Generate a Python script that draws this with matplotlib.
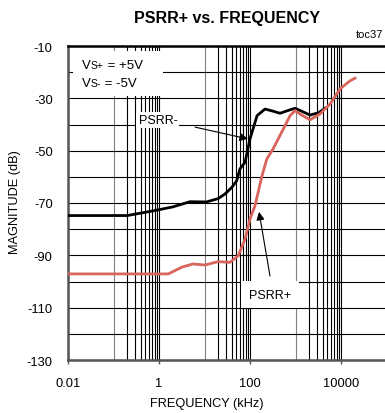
import matplotlib
matplotlib.use("Agg")
import matplotlib.pyplot as plt
from matplotlib.patches import Rectangle
from matplotlib.offsetbox import TextArea, HPacker, VPacker, AnchoredOffsetbox

plt.rcParams['font.family'] = ['Liberation Sans', 'DejaVu Sans']

# ---- data (frequency in kHz, magnitude in dB) ----
psrr_minus_f = [0.01, 0.2, 0.8, 2, 4.8, 11, 20, 28, 40, 51, 60, 78, 100, 143, 214,
                320, 457, 700, 977, 1400, 2090, 3200, 4500]
psrr_minus_db = [-74.8, -74.8, -72.9, -71.5, -69.5, -69.6, -68.3, -66.6, -64.0, -61.5,
                 -57.0, -54.4, -45.5, -36.6, -34.1, -34.9, -35.7, -34.6, -33.8, -35.0,
                 -36.4, -35.5, -33.8]

psrr_plus_f = [0.01, 1.6, 3.2, 5.6, 10.2, 20, 36, 55, 78, 100, 129, 181, 234, 320, 417,
               587, 759, 975, 1368, 2085, 3450, 5730, 9500, 15800, 20300]
psrr_plus_db = [-97.1, -97.1, -94.5, -93.3, -93.7, -92.4, -92.7, -90.2, -83.7, -76.1,
                -71.0, -60.0, -53.2, -49.4, -45.5, -40.5, -36.6, -34.7, -36.4, -38.2,
                -36.0, -32.2, -26.4, -23.3, -22.3]

x_major = [0.01, 1, 100, 10000]
x_major_labels = ["0.01", "1", "100", "10000"]
x_decades_minor = [0.1, 10, 1000]
x_minor_ext = [m * d for d in [0.1, 10, 1000] for m in range(2, 10)]
y_major = [-130, -110, -90, -70, -50, -30, -10]
y_minor = [-120, -100, -80, -60, -40, -20]

W, H = 385, 414
fig = plt.figure(figsize=(W / 100, H / 100), dpi=100)
ax = fig.add_axes([68 / W, 1 - 361 / H, 318.5 / W, 314 / H])
ax.set_xscale('log')
ax.set_xlim(0.01, 100000)
ax.set_ylim(-130, -10)

ax.set_xticks(x_major)
ax.set_xticklabels(x_major_labels)
ax.set_xticks(x_decades_minor + x_minor_ext, minor=True)
ax.set_xticklabels([], minor=True)
ax.set_yticks(y_major)
ax.set_yticklabels([str(v) for v in y_major])
ax.set_yticks(y_minor, minor=True)

ax.tick_params(axis='x', which='major', length=3, width=1, color='#555', pad=9, labelsize=9.3)
ax.tick_params(axis='x', which='minor', length=0)
ax.tick_params(axis='y', which='both', length=0, pad=11, labelsize=9.3)

ax.grid(True, which='both', color='black', lw=0.8)
for t in ax.xaxis.get_minor_ticks():
    if t.get_loc() in x_decades_minor:
        t.gridline.set_color('#808080')
ax.set_axisbelow(True)

ax.spines['top'].set_linewidth(1.8)
ax.spines['top'].set_color('black')
for s in ['left', 'bottom']:
    ax.spines[s].set_linewidth(1.8)
    ax.spines[s].set_color('#555555')
ax.spines['right'].set_visible(False)

ax.plot(psrr_minus_f, psrr_minus_db, color='black', lw=2.0, solid_joinstyle='round', zorder=3)
ax.plot(psrr_plus_f, psrr_plus_db, color='#d8645c', lw=2.0, solid_joinstyle='round', zorder=3)

# annotations
ax.text(0.95, -38.3, "PSRR-", ha='center', va='center', fontsize=9,
        bbox=dict(facecolor='white', edgecolor='none', pad=1.5), zorder=4)
ax.annotate("", xy=(90, -45.5), xytext=(6.2, -41.0),
            arrowprops=dict(arrowstyle='-|>', lw=0.8, color='black', mutation_scale=12,
                            shrinkA=0, shrinkB=0), zorder=4)
ax.text(275, -105.1, "PSRR+", ha='center', va='center', fontsize=9,
        bbox=dict(facecolor='white', edgecolor='none', pad=5.5), zorder=4)
ax.annotate("", xy=(158, -73.4), xytext=(275, -97.9),
            arrowprops=dict(arrowstyle='-|>', lw=0.8, color='black', mutation_scale=12,
                            shrinkA=0, shrinkB=0), zorder=4)

# white box behind supply-voltage note
ax.add_patch(Rectangle((73 / W, 1 - 97 / H), 90 / W, 45 / H, transform=fig.transFigure,
                       facecolor='white', edgecolor='none', zorder=4.5))

def row(sub, val):
    return HPacker(children=[TextArea("V", textprops=dict(fontsize=9.5)),
                             TextArea(sub, textprops=dict(fontsize=7.5)),
                             TextArea(val, textprops=dict(fontsize=9.5))],
                   align='baseline', pad=0, sep=0)

box = VPacker(children=[row("S+", " = +5V"), row("S-", " = -5V")], align='left', pad=0, sep=4)
anch = AnchoredOffsetbox(loc='upper left', child=box, pad=0, borderpad=0,
                         bbox_to_anchor=(82 / W, 1 - 60 / H), bbox_transform=fig.transFigure,
                         frameon=False)
anch.zorder = 5
ax.add_artist(anch)

fig.text(227 / W, 1 - 18 / H, "PSRR+ vs. FREQUENCY", ha='center', va='center',
         fontsize=11.5, fontweight='bold')
fig.text(369 / W, 1 - 35 / H, "toc37", ha='center', va='center', fontsize=8)
fig.text(207 / W, 1 - 404 / H, "FREQUENCY (kHz)", ha='center', va='center', fontsize=9.2)
fig.text(15 / W, 1 - 202 / H, "MAGNITUDE (dB)", ha='center', va='center', fontsize=9.2,
         rotation=90)

fig.savefig("out.png", dpi=100)
